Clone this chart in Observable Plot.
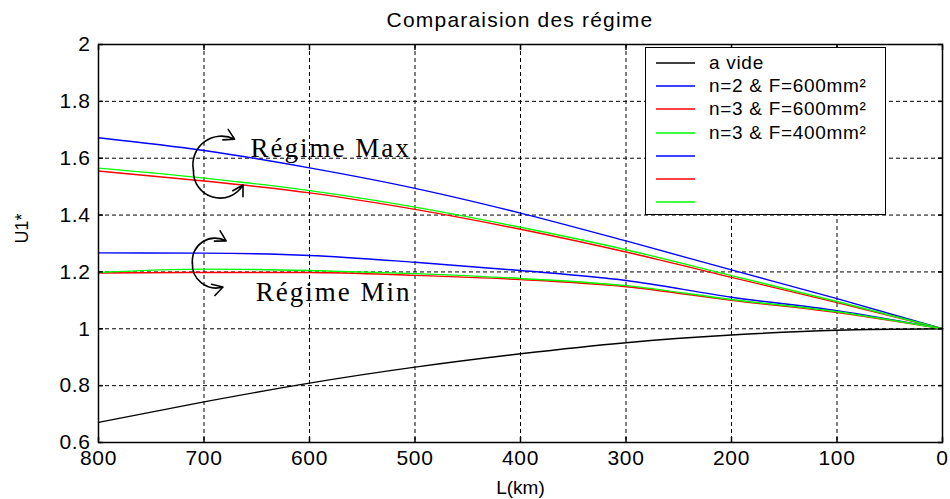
<!DOCTYPE html>
<html>
<head>
<meta charset="utf-8">
<script src="https://cdn.jsdelivr.net/npm/d3@7"></script>
<script src="https://cdn.jsdelivr.net/npm/@observablehq/plot@0.6"></script>
<style>
  body { margin: 0; background: #fff; font-family: "Liberation Sans", Arial, sans-serif; color: #000; }
  #wrap { position: relative; width: 950px; height: 499px; overflow: hidden; }
  #title { height: 38px; line-height: 40px; margin-left: 98px; width: 844px; text-align: center;
           font-size: 21px; letter-spacing: 1.2px; }
  #legend { position: absolute; left: 645px; top: 47px; width: 241px; height: 168px;
            border: 1.3px solid #000; background: #fff; box-sizing: border-box; }
  .row { position: absolute; left: 0; height: 20px; display: flex; align-items: center; }
  .sw { display: block; margin-left: 10px; margin-right: 14px; }
  .lbl { font-size: 19px; letter-spacing: 0.7px; white-space: nowrap; }
  svg g[aria-label="x-axis tick label"] text,
  svg g[aria-label="y-axis tick label"] text { letter-spacing: 0.6px; }
  svg g[aria-label="text"] text.anno { letter-spacing: 2px; }
</style>
</head>
<body>
<div id="wrap">
  <div id="title"></div>
  <div id="chart"></div>
  <div id="legend"></div>
</div>
<script>
// ---------- data ----------
const titleText = "Comparaision des régime";
const xLabel = "L(km)";
const yLabel = "U1*";

const km = [800, 700, 600, 500, 400, 300, 200, 100, 0];

const aVide      = [0.671, 0.743, 0.809, 0.865, 0.912, 0.951, 0.978, 0.995, 1.0];
const maxN2F600  = [1.672, 1.627, 1.566, 1.494, 1.407, 1.309, 1.207, 1.106, 1.0];
const maxN3F600  = [1.555, 1.520, 1.478, 1.420, 1.350, 1.270, 1.181, 1.092, 1.0];
const maxN3F400  = [1.565, 1.530, 1.486, 1.428, 1.357, 1.278, 1.187, 1.096, 1.0];
const minN2F600  = [1.267, 1.266, 1.258, 1.234, 1.205, 1.170, 1.111, 1.064, 1.0];
const minN3F600  = [1.196, 1.198, 1.198, 1.188, 1.173, 1.148, 1.100, 1.057, 1.0];
const minN3F400  = [1.198, 1.210, 1.205, 1.194, 1.177, 1.152, 1.103, 1.060, 1.0];

const seriesNames  = ["a vide", "max n=2 F=600", "max n=3 F=600", "max n=3 F=400",
                      "min n=2 F=600", "min n=3 F=600", "min n=3 F=400"];
const seriesValues = [aVide, maxN2F600, maxN3F600, maxN3F400, minN2F600, minN3F600, minN3F400];
const seriesColors = ["#000000", "#0000ff", "#ff0000", "#00ff00", "#0000ff", "#ff0000", "#00ff00"];

const legendLabels = ["a vide", "n=2 & F=600mm²", "n=3 & F=600mm²", "n=3 & F=400mm²", "", "", ""];

const xTicks = [800, 700, 600, 500, 400, 300, 200, 100, 0];
const xTickLabels = ["800", "700", "600", "500", "400", "300", "200", "100", "0"];
const yTicks = [0.6, 0.8, 1.0, 1.2, 1.4, 1.6, 1.8, 2.0];
const yTickLabels = ["0.6", "0.8", "1", "1.2", "1.4", "1.6", "1.8", "2"];

// annotations (in data units: km, U1*)
const annoTexts = [
  {label: "Régime Max", km: 656, v: 1.636},
  {label: "Régime Min", km: 651, v: 1.128}
];
const maxArrowUp   = [{x1: 710, y1: 1.557, x2: 671, y2: 1.667}];
const maxArrowDown = [{x1: 710, y1: 1.557, x2: 663, y2: 1.506}];
const minArrowUp   = [{x1: 711, y1: 1.232, x2: 679, y2: 1.309}];
const minArrowDown = [{x1: 711, y1: 1.232, x2: 682, y2: 1.147}];

// ---------- build table ----------
const rows = [];
seriesNames.forEach((name, s) => {
  km.forEach((k, i) => rows.push({series: name, km: k, v: seriesValues[s][i]}));
});

document.getElementById("title").textContent = titleText;

const arrowStyle = {x1: "x1", y1: "y1", x2: "x2", y2: "y2", stroke: "#000", strokeWidth: 1.6, headLength: 11, headAngle: 60};

const plot = Plot.plot({
  width: 950,
  height: 461,
  marginTop: 6,
  marginBottom: 57,
  marginLeft: 98,
  marginRight: 8,
  x: {domain: [800, 0], ticks: xTicks},
  y: {domain: [0.6, 2], ticks: yTicks},
  color: {domain: seriesNames, range: seriesColors},
  style: {fontFamily: "'Liberation Sans', Arial, sans-serif", fontSize: "21px", color: "#000", background: "#fff", overflow: "visible"},
  marks: [
    Plot.gridX(xTicks, {stroke: "#000", strokeOpacity: 1, strokeWidth: 1, strokeDasharray: "4,3"}),
    Plot.gridY(yTicks, {stroke: "#000", strokeOpacity: 1, strokeWidth: 1, strokeDasharray: "4,3"}),
    Plot.line(rows, {x: "km", y: "v", z: "series", stroke: "series", strokeWidth: 1.4, curve: "monotone-x"}),
    Plot.frame({stroke: "#000", strokeWidth: 1.5}),
    Plot.axisX(xTicks, {anchor: "bottom", tickSize: -5, fill: "none", label: null, strokeWidth: 1.5}),
    Plot.axisX(xTicks, {anchor: "top", tickSize: -5, fill: "none", label: null, strokeWidth: 1.5}),
    Plot.axisY(yTicks, {anchor: "left", tickSize: -5, fill: "none", label: null, strokeWidth: 1.5}),
    Plot.axisY(yTicks, {anchor: "right", tickSize: -5, fill: "none", label: null, strokeWidth: 1.5}),
    Plot.axisX(xTicks, {anchor: "bottom", tickSize: 0, tickPadding: 8, label: null,
      tickFormat: d => xTickLabels[xTicks.indexOf(d)]}),
    Plot.axisY(yTicks, {anchor: "left", tickSize: 0, tickPadding: 8, label: null,
      tickFormat: d => yTickLabels[yTicks.indexOf(d)]}),
    Plot.text([xLabel], {frameAnchor: "bottom", dy: 45, text: d => d, fontSize: 19, lineAnchor: "middle"}),
    Plot.text([yLabel], {frameAnchor: "left", dx: -76, text: d => d, fontSize: 18, rotate: -90, lineAnchor: "middle"}),
    Plot.text(annoTexts, {x: "km", y: "v", text: "label", textAnchor: "start", lineAnchor: "middle",
      fontFamily: "'Liberation Serif', 'Times New Roman', serif", fontSize: 27}),
    Plot.arrow(maxArrowUp,   {...arrowStyle, bend: 64}),
    Plot.arrow(maxArrowDown, {...arrowStyle, bend: -76}),
    Plot.arrow(minArrowUp,   {...arrowStyle, bend: 62}),
    Plot.arrow(minArrowDown, {...arrowStyle, bend: -55})
  ]
});
document.getElementById("chart").appendChild(plot);

// letter spacing for the serif annotations (reference text is horizontally wide)
plot.querySelectorAll('g[aria-label="text"] text').forEach(t => {
  if (t.textContent.startsWith("Régime")) t.classList.add("anno");
});

// ---------- legend (inside the axes, top-right) ----------
const NS = "http://www.w3.org/2000/svg";
const legend = document.getElementById("legend");
legendLabels.forEach((lab, i) => {
  const row = document.createElement("div");
  row.className = "row";
  row.style.top = Math.round(5 + i * 23.2) + "px";
  const sw = document.createElementNS(NS, "svg");
  sw.setAttribute("width", "39");
  sw.setAttribute("height", "4");
  sw.setAttribute("class", "sw");
  const ln = document.createElementNS(NS, "line");
  ln.setAttribute("x1", "0"); ln.setAttribute("x2", "39");
  ln.setAttribute("y1", "2"); ln.setAttribute("y2", "2");
  ln.setAttribute("stroke", seriesColors[i]);
  ln.setAttribute("stroke-width", "1.6");
  sw.appendChild(ln);
  const tx = document.createElement("span");
  tx.className = "lbl";
  tx.textContent = lab;
  row.appendChild(sw);
  row.appendChild(tx);
  legend.appendChild(row);
});
</script>
</body>
</html>
